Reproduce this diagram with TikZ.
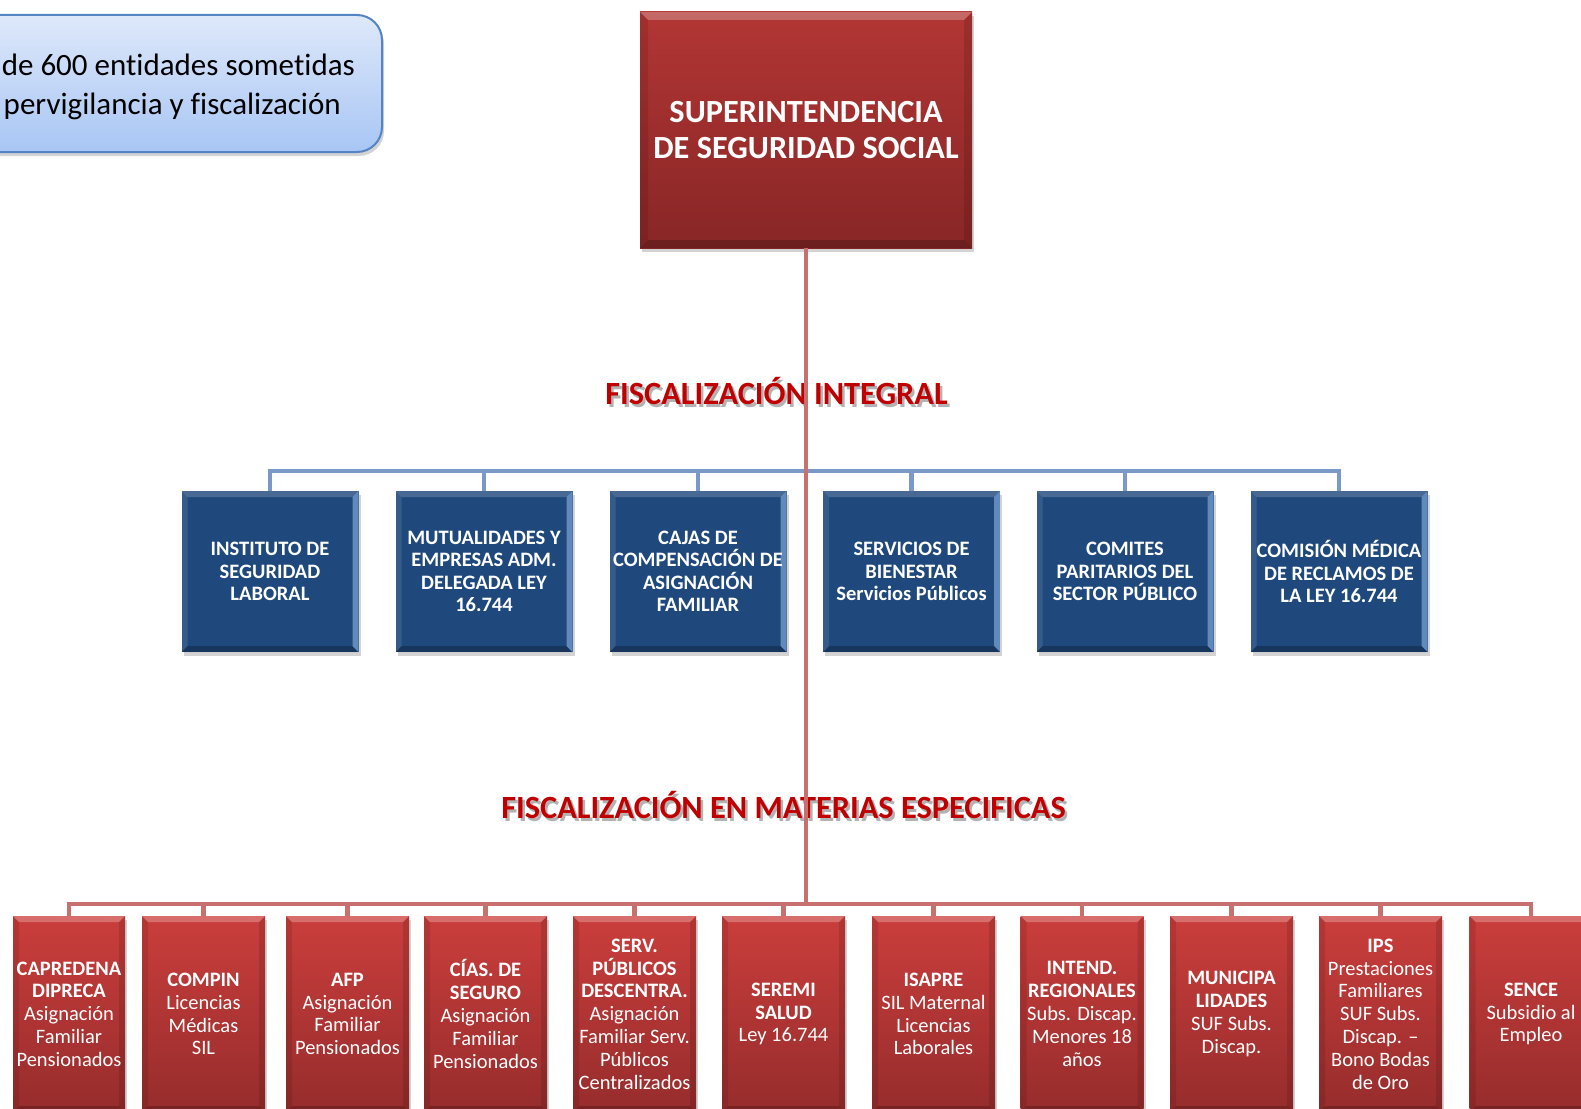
\documentclass[tikz,border=0pt]{standalone}
\usepackage{fontspec}
\setmainfont{Carlito}[Ligatures=NoCommon]
\usetikzlibrary{shadows}
\definecolor{bluefill}{RGB}{31,73,125}
\definecolor{bluelight}{RGB}{141,180,226}
\definecolor{bluebus}{RGB}{122,152,200}
\definecolor{redbus}{RGB}{200,112,112}
\definecolor{redtop}{RGB}{202,62,60}
\definecolor{redbot}{RGB}{150,44,44}
\definecolor{maintop}{RGB}{178,54,52}
\definecolor{mainbot}{RGB}{136,38,38}
\definecolor{headred}{RGB}{192,0,0}
\definecolor{notetop}{RGB}{222,232,250}
\definecolor{notebot}{RGB}{168,198,244}
\definecolor{noteborder}{RGB}{84,132,196}
\newcommand\bevelpic[2]{%
  \path (path picture bounding box.north west) coordinate (pnw)
        (path picture bounding box.north east) coordinate (pne)
        (path picture bounding box.south west) coordinate (psw)
        (path picture bounding box.south east) coordinate (pse);
  \fill[#2T] (pnw) -- (pne) -- ([shift={(-#1pt,-#1pt)}]pne) -- ([shift={(#1pt,-#1pt)}]pnw) -- cycle;
  \fill[#2B] (psw) -- (pse) -- ([shift={(-#1pt,#1pt)}]pse) -- ([shift={(#1pt,#1pt)}]psw) -- cycle;
  \fill[#2R] (pne) -- (pse) -- ([shift={(-#1pt,#1pt)}]pse) -- ([shift={(-#1pt,-#1pt)}]pne) -- cycle;
  \fill[#2L] (pnw) -- (psw) -- ([shift={(#1pt,#1pt)}]psw) -- ([shift={(#1pt,-#1pt)}]pnw) -- cycle;
}
\begin{document}
\begin{tikzpicture}[x=1pt,y=-1pt,
  blueT/.style={fill=white,fill opacity=0.18},
  blueR/.style={fill=bluelight,fill opacity=0.6},
  blueB/.style={fill=black,fill opacity=0.25},
  blueL/.style={fill=white,fill opacity=0.10},
  redT/.style={fill=white,fill opacity=0.25},
  redR/.style={fill=black,fill opacity=0.12},
  redB/.style={fill=black,fill opacity=0.20},
  redL/.style={fill=black,fill opacity=0.10},
  boxshadow/.style={drop shadow={shadow xshift=2pt,shadow yshift=-4pt,opacity=0.35}},
  bluebox/.style={minimum width=177pt, minimum height=161pt, inner sep=0pt,
    fill=bluefill, text=white, font=\fontsize{20.5}{22.5}\selectfont\bfseries,
    align=center, boxshadow, path picture={\bevelpic{6}{blue}}},
  redbox/.style={minimum width=123pt, minimum height=196pt, inner sep=0pt,
    top color=redtop, bottom color=redbot, text=white,
    font=\fontsize{20.5}{22.8}\selectfont, align=center, boxshadow,
    path picture={\bevelpic{6}{red}}},
  mainbox/.style={minimum width=332pt, minimum height=236pt, inner sep=0pt,
    top color=maintop, bottom color=mainbot, text=white,
    font=\fontsize{32.3}{36}\selectfont\bfseries, align=center, boxshadow,
    path picture={\bevelpic{8}{red}}},
  notebox/.style={minimum width=422pt, minimum height=137pt, rounded corners=25pt,
    top color=notetop, bottom color=notebot, draw=noteborder, line width=2pt, boxshadow},
  notetext/.style={font=\fontsize{31}{38}\selectfont, inner sep=0pt, anchor=base east},
  head/.style={font=\fontsize{32.4}{36}\selectfont\bfseries, text=headred, inner sep=0pt, anchor=base},
  headshade/.style={head, text=black, text opacity=0.3},
  bline/.style={draw=bluebus, line width=4.5pt},
  rline/.style={draw=redbus, line width=4.5pt}
]
\useasboundingbox (0,0) rectangle (1581,1108);
\clip (0,0) rectangle (1581,1108);

% note box
\node[notebox] (note) at (171,83.5) {};
\node[notetext] (n1) at (355,75) {de 600 entidades sometidas};
\node[notetext] (n2) at (341,114) {pervigilancia y fiscalización};

% main box
\node[mainbox] (top) at (806,130) {SUPERINTENDENCIA\\DE SEGURIDAD SOCIAL};

% headings
\node[headshade] (h1s) at (779,407) {FISCALIZACIÓN INTEGRAL};
\node[head] (h1) at (776.5,404) {FISCALIZACIÓN INTEGRAL};
\node[headshade] (h2s) at (786,821) {FISCALIZACIÓN EN MATERIAS ESPECIFICAS};
\node[head] (h2) at (783.5,818) {FISCALIZACIÓN EN MATERIAS ESPECIFICAS};

% blue boxes
\node[bluebox] (b1) at (270,571.5) {INSTITUTO DE\\SEGURIDAD\\LABORAL};
\node[bluebox] (b2) at (484,571.5) {MUTUALIDADES Y\\EMPRESAS ADM.\\DELEGADA LEY\\16.744};
\node[bluebox] (b3) at (698,571.5) {CAJAS DE\\COMPENSACIÓN DE\\ASIGNACIÓN\\FAMILIAR};
\node[bluebox] (b4) at (911.5,571.5) {SERVICIOS DE\\BIENESTAR\\Servicios Públicos};
\node[bluebox] (b5) at (1125,571.5) {COMITES\\PARITARIOS DEL\\SECTOR PÚBLICO};
\node[bluebox] (b6) at (1339,571.5) {COMISIÓN MÉDICA\\DE RECLAMOS DE\\LA LEY 16.744};

% red boxes
\node[redbox, minimum width=112pt] (r1) at (69,1014) {\textbf{CAPREDENA}\\\textbf{DIPRECA}\\Asignación\\Familiar\\Pensionados};
\node[redbox] (r2) at (203.5,1014) {\textbf{COMPIN}\\Licencias\\Médicas\\SIL};
\node[redbox] (r3) at (347.5,1014) {\textbf{AFP}\\Asignación\\Familiar\\Pensionados};
\node[redbox] (r4) at (485.5,1014) {\textbf{CÍAS. DE}\\\textbf{SEGURO}\\Asignación\\Familiar\\Pensionados};
\node[redbox] (r5) at (634.5,1014) {\textbf{SERV.}\\\textbf{PÚBLICOS}\\\textbf{DESCENTRA.}\\Asignación\\Familiar Serv.\\Públicos\\Centralizados};
\node[redbox] (r6) at (783.5,1014) {\textbf{SEREMI}\\\textbf{SALUD}\\Ley 16.744};
\node[redbox] (r7) at (933.5,1014) {\textbf{ISAPRE}\\SIL Maternal\\Licencias\\Laborales};
\node[redbox] (r8) at (1082,1014) {\textbf{INTEND.}\\\textbf{REGIONALES}\\Subs. Discap.\\Menores 18\\años};
\node[redbox] (r9) at (1231.5,1014) {\textbf{MUNICIPA}\\\textbf{LIDADES}\\SUF Subs.\\Discap.};
\node[redbox] (r10) at (1380.5,1014) {\textbf{IPS}\\Prestaciones\\Familiares\\SUF Subs.\\Discap. –\\Bono Bodas\\de Oro};
\node[redbox] (r11) at (1531,1014) {\textbf{SENCE}\\Subsidio al\\Empleo};

% connectors
\coordinate (bhub) at (806,471);
\coordinate (rhub) at (806,904);
\foreach \n in {b1,b2,b3,b4,b5,b6} \draw[bline] (bhub) -| (\n.north);
\foreach \n in {r1,r2,r3,r4,r5,r6,r7,r8,r9,r10,r11} \draw[rline] (rhub) -| (\n.north);
\draw[rline] (top.south) -- (rhub);
\end{tikzpicture}
\end{document}
